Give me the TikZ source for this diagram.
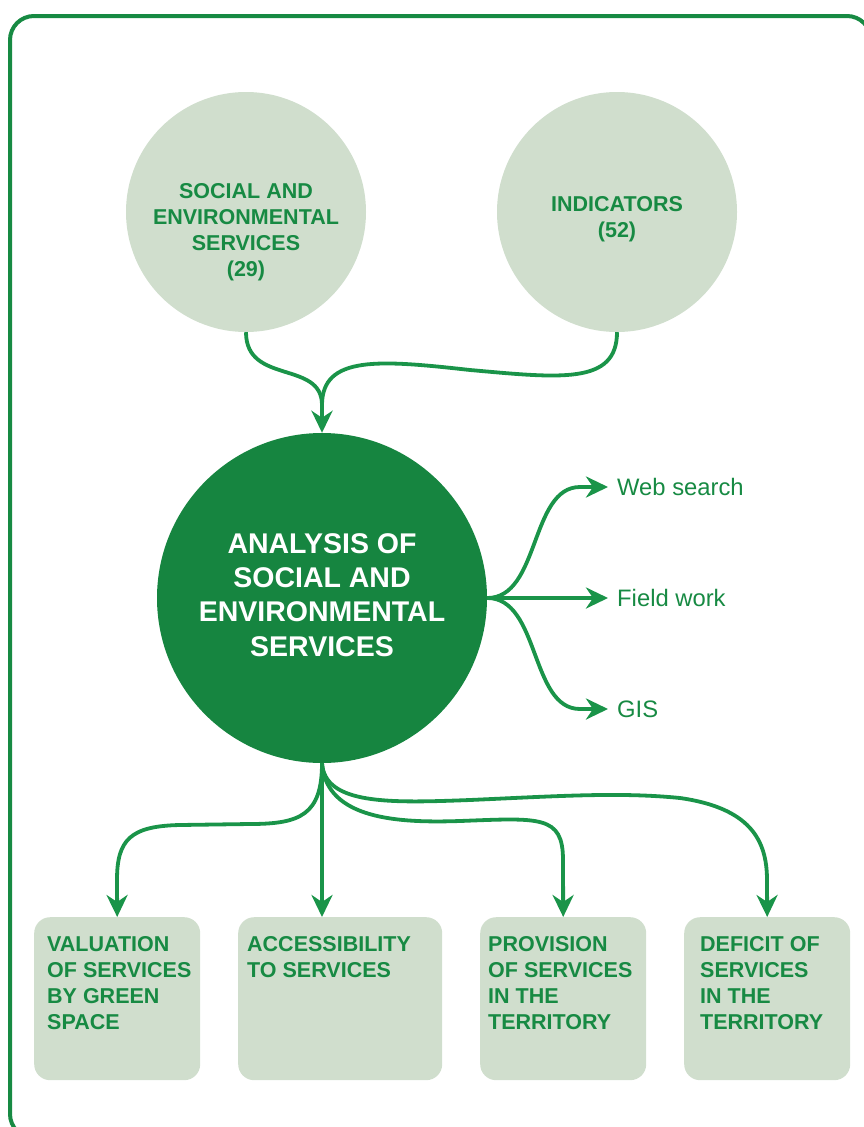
\documentclass[tikz,border=0pt]{standalone}
\usepackage{fontspec}
\setmainfont{Liberation Sans}
\usetikzlibrary{arrows.meta}

\definecolor{leaf}{HTML}{178A43}
\definecolor{pale}{HTML}{D0DECD}
\definecolor{deep}{HTML}{168540}
\definecolor{flowgreen}{HTML}{1A9449}

\tikzset{
  bubble/.style={circle, fill=pale, minimum size=240pt, inner sep=0pt},
  bubbletext/.style={text=leaf, font=\bfseries\fontsize{21.5}{26}\selectfont, align=center, inner sep=0pt, anchor=north},
  card/.style={rounded corners=16pt, fill=pale, minimum height=163pt, inner sep=0pt, anchor=north west},
  cardtext/.style={text=leaf, font=\bfseries\fontsize{21.5}{26}\selectfont, align=left, inner sep=0pt, anchor=north west},
  tool/.style={text=leaf, font=\fontsize{23.8}{28}\selectfont, anchor=west, inner xsep=9pt, inner ysep=0pt},
  flow/.style={draw=flowgreen, line width=3.8pt, -{Stealth[length=22pt,width=21pt,inset=7pt]}}
}

\begin{document}
\begin{tikzpicture}[x=1pt, y=-1pt]
    \clip (0,0) rectangle (864,1127);
    % outer frame
    \draw[leaf, line width=4pt, rounded corners=24pt] (10,16) rectangle (871,1138);

    % inputs
    \node[bubble] (soc) at (246,212) {};
    \node[bubbletext] (soctext) at (246,183) {SOCIAL AND\\ENVIRONMENTAL\\SERVICES\\(29)};
    \node[bubble] (ind) at (617,212) {};
    \node[bubbletext] (indtext) at (617,196.5) {INDICATORS\\(52)};

    % analysis
    \node[circle, fill=deep, minimum size=330pt, inner sep=0pt] (ana) at (322,598) {};
    \node[bubbletext, text=white, font=\bfseries\fontsize{28.5}{34.3}\selectfont] (anatext) at (322,533)
        {ANALYSIS OF\\SOCIAL AND\\ENVIRONMENTAL\\SERVICES};

    % sources
    \node[tool] (web) at (608,487) {Web search};
    \node[tool] (field) at (608,598) {Field work};
    \node[tool] (gis) at (608,709) {GIS};

    % results
    \node[card, minimum width=166pt] (val) at (34,917) {};
    \node[card, minimum width=204pt] (acc) at (238,917) {};
    \node[card, minimum width=166pt] (pro) at (480,917) {};
    \node[card, minimum width=166pt] (def) at (684,917) {};
    \node[cardtext] at ([shift={(13,19)}]val.north west) {VALUATION\\OF SERVICES\\BY GREEN\\SPACE};
    \node[cardtext] at ([shift={(9,19)}]acc.north west) {ACCESSIBILITY\\TO SERVICES};
    \node[cardtext] at ([shift={(8,19)}]pro.north west) {PROVISION\\OF SERVICES\\IN THE\\TERRITORY};
    \node[cardtext] at ([shift={(16,19)}]def.north west) {DEFICIT OF\\SERVICES\\IN THE\\TERRITORY};

    % connectors
    \draw[flow] (soc.south) .. controls (246,385) and (322,360) .. (322,405) -- (ana.north);
    \draw[flow, -] (ind.south) .. controls (617,385) and (560,378) .. (470,370)
        .. controls (380,360) and (322,355) .. (322,405);

    \draw[flow] (ana.east) .. controls (540,598) and (530,487) .. (580,487) -- (web.west);
    \draw[flow] (ana.east) -- (field.west);
    \draw[flow] (ana.east) .. controls (540,598) and (530,709) .. (580,709) -- (gis.west);

    \draw[flow] (ana.south) .. controls (322,815) and (300,824) .. (250,824) -- (180,825)
        .. controls (130,826) and (117,840) .. (117,880) -- (val.north);
    \draw[flow] (ana.south) -- (ana.south |- acc.north);
    \draw[flow] (ana.south) .. controls (326,820) and (400,823) .. (460,821)
        .. controls (540,818) and (563,815) .. (563,860) -- (pro.north);
    \draw[flow] (ana.south) .. controls (325,805) and (390,803) .. (470,800)
        .. controls (560,796) and (620,792) .. (680,798)
        .. controls (750,808) and (767,840) .. (767,880) -- (def.north);
\end{tikzpicture}
\end{document}
